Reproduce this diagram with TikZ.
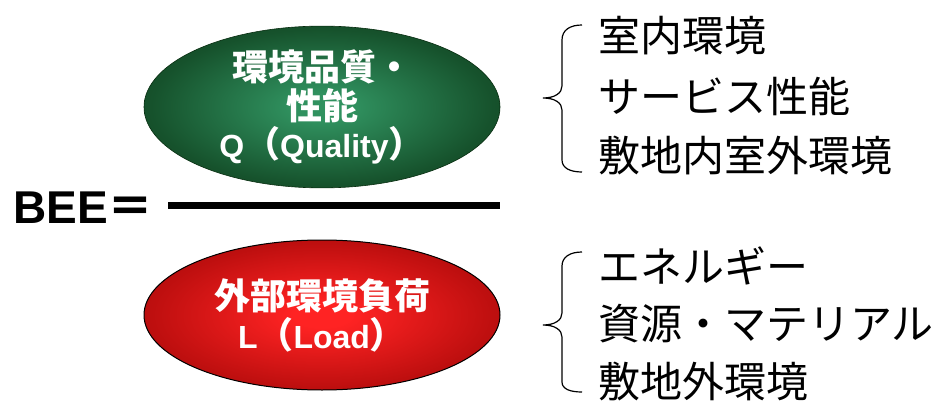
\documentclass[tikz,border=0pt]{standalone}
\usepackage{fontspec}
\setmainfont{Liberation Sans}
\newfontfamily\cjk{Noto Sans CJK JP}
\usetikzlibrary{shapes.geometric}
\definecolor{ginner}{RGB}{48,145,95}
\definecolor{gmid}{RGB}{22,82,44}
\definecolor{gouter}{RGB}{8,45,16}
\definecolor{rinner}{RGB}{255,35,35}
\definecolor{rmid}{RGB}{190,15,15}
\definecolor{router}{RGB}{128,0,0}
\pgfdeclareradialshading{gshade}{\pgfpoint{0bp}{0bp}}{color(0bp)=(ginner); color(4bp)=(ginner); color(24bp)=(gmid); color(44bp)=(gouter); color(75bp)=(gouter)}
\pgfdeclareradialshading{rshade}{\pgfpoint{0bp}{0bp}}{color(0bp)=(rinner); color(4bp)=(rinner); color(24bp)=(rmid); color(44bp)=(router); color(75bp)=(router)}
\tikzset{
  ellbox/.style={ellipse, minimum width=356pt, minimum height=150pt, inner sep=0pt, align=center, text=white, font=\fontsize{32}{40}\selectfont\bfseries},
  itemtext/.style={anchor=west, inner sep=0pt, font=\cjk\fontsize{42}{50}\selectfont},
  bracepath/.style={line width=1.2pt, black},
}
\newcommand{\cjkbig}[1]{{\cjk\fontsize{36}{40}\selectfont #1}}
\begin{document}
\begin{tikzpicture}[x=1pt,y=-1pt]
\useasboundingbox (0,0) rectangle (941,406);
\node[ellbox, shading=gshade, draw=gouter, line width=0.6pt] (q) at (322,107)
  {\cjkbig{環境品質・}\\[-1pt]\cjkbig{性能}\\[-2pt]Q\cjkbig{（}Quality\cjkbig{）}};
\node[ellbox, shading=rshade, draw=black, line width=1pt] (l) at (322,315)
  {\cjkbig{外部環境負荷}\\[-1pt]L\cjkbig{（}Load\cjkbig{）}};
\node[anchor=west, inner sep=0pt, font=\fontsize{46}{50}\selectfont\bfseries] (bee) at (13,208) {BEE{\cjk ＝}};
\coordinate (fs) at (168,205);
\coordinate (fe) at (500,205);
\draw[line width=7pt] (fs) -- (fe);
% top brace
\draw[bracepath] (582,25) .. controls (570,25) and (562,30) .. (562,40) -- (562,86)
  .. controls (562,93) and (555,98) .. (543,98)
  .. controls (555,98) and (562,103) .. (562,110) -- (562,160)
  .. controls (562,168) and (570,172) .. (582,172);
% bottom brace
\draw[bracepath] (582,252) .. controls (570,252) and (562,257) .. (562,266) -- (562,313)
  .. controls (562,320) and (555,325) .. (543,325)
  .. controls (555,325) and (562,330) .. (562,337) -- (562,382)
  .. controls (562,389) and (570,392) .. (582,392);
\node[itemtext] (a1) at (598,36) {室内環境};
\node[itemtext] (a2) at (598,96) {サービス性能};
\node[itemtext] (a3) at (598,155) {敷地内室外環境};
\node[itemtext] (b1) at (598,266) {エネルギー};
\node[itemtext] (b2) at (598,324) {資源・マテリアル};
\node[itemtext] (b3) at (598,381) {敷地外環境};
\end{tikzpicture}
\end{document}
